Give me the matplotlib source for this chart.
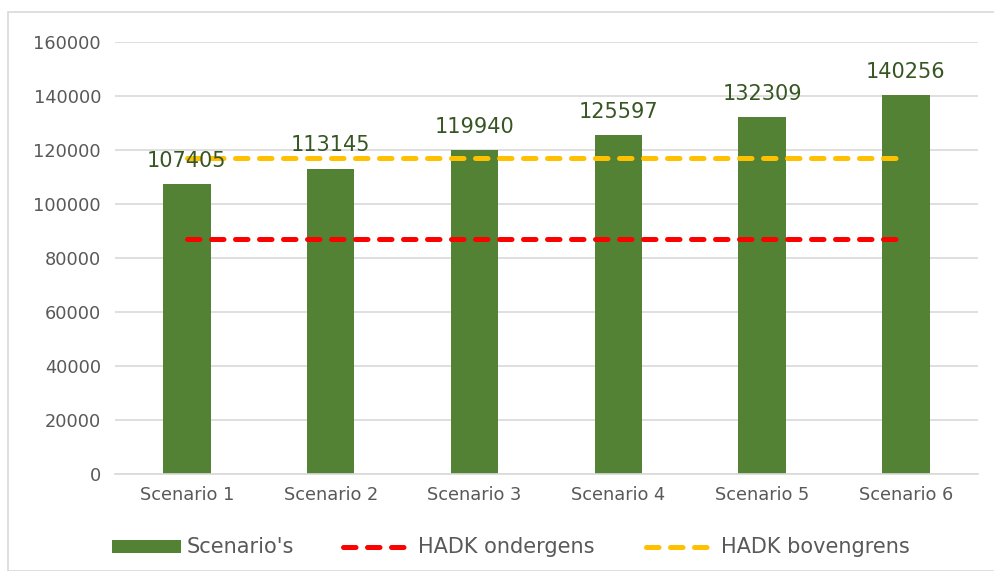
import matplotlib.pyplot as plt
import numpy as np
from matplotlib.patches import Rectangle
from matplotlib.lines import Line2D

categories = ["Scenario 1", "Scenario 2", "Scenario 3", "Scenario 4", "Scenario 5", "Scenario 6"]
scenario_values = [107405, 113145, 119940, 125597, 132309, 140256]
hadk_onder = [87000] * 6
hadk_boven = [117000] * 6
y_ticks = [0, 20000, 40000, 60000, 80000, 100000, 120000, 140000, 160000]

plt.rcParams["font.family"] = ["DejaVu Sans"]

W, H = 994, 571
fig = plt.figure(figsize=(W / 100, H / 100), dpi=100)
# chart border like excel
fig.patches.append(Rectangle((8 / W, 0), 1, 1 - 12 / H, transform=fig.transFigure,
                             fill=False, edgecolor="#d9d9d9", linewidth=1.2))

ax = fig.add_axes([0.1157, 0.170, 0.868, 0.7564])
x = np.arange(len(categories))

green = "#548235"
red = "#ff0000"
yellow = "#ffc000"
dash = (2.5, 2.3)

bars = ax.bar(x, scenario_values, width=0.33, color=green, zorder=2)
ax.plot(x, hadk_onder, color=red, linewidth=3.6, dashes=dash, dash_capstyle="round", zorder=3)
ax.plot(x, hadk_boven, color=yellow, linewidth=3.6, dashes=dash, dash_capstyle="round", zorder=3)

for xi, v in zip(x, scenario_values):
    ax.annotate(str(v), (xi, v), xytext=(0, 12.3), textcoords="offset points",
                ha="center", va="baseline", fontsize=15, color="#375623", zorder=5)

ax.set_xlim(-0.5, len(categories) - 0.5)
ax.set_ylim(0, 160000)
ax.set_yticks(y_ticks)
ax.set_yticklabels([str(t) for t in y_ticks])
ax.set_xticks(x)
ax.set_xticklabels(categories)
ax.tick_params(axis="both", length=0, labelsize=12.8, labelcolor="#595959")
ax.tick_params(axis="y", pad=10)
ax.tick_params(axis="x", pad=9)
ax.grid(axis="y", color="#d9d9d9", linewidth=1.2, zorder=0)
ax.set_axisbelow(True)
for s in ["top", "right", "left"]:
    ax.spines[s].set_visible(False)
ax.spines["bottom"].set_color("#d9d9d9")
ax.spines["bottom"].set_linewidth(1.2)

# legend drawn by hand to match the excel layout
ly = 1 - 547 / H
fig.patches.append(Rectangle((112 / W, 1 - 553 / H), 69 / W, 13 / H, transform=fig.transFigure,
                             facecolor=green, edgecolor="none"))
fig.text(187 / W, ly, "Scenario's", fontsize=15, color="#595959", va="center", ha="left")
for x0, col, label in [(340, red, "HADK ondergens"), (643, yellow, "HADK bovengrens")]:
    fig.lines.append(Line2D([(x0 + 2.5) / W, (x0 + 63.5) / W], [ly, ly], transform=fig.transFigure,
                            color=col, linewidth=3.6, dashes=dash, dash_capstyle="round"))
    fig.text((x0 + 78) / W, ly, label, fontsize=15, color="#595959", va="center", ha="left")

fig.savefig("out.png", dpi=100)
